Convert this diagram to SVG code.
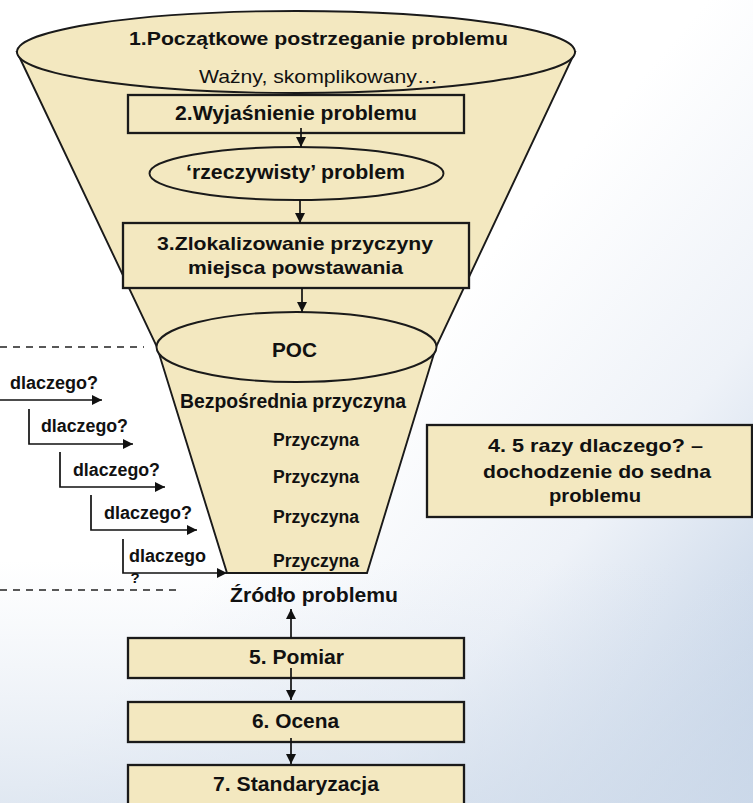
<svg xmlns="http://www.w3.org/2000/svg" width="753" height="803" viewBox="0 0 753 803">
  <defs>
    <linearGradient id="bgDiag" gradientUnits="userSpaceOnUse" x1="330" y1="440" x2="753" y2="803">
      <stop offset="0" stop-color="#ffffff"/>
      <stop offset="0.45" stop-color="#eef2f8"/>
      <stop offset="1" stop-color="#b9cbe2"/>
    </linearGradient>
    <linearGradient id="bgLow" gradientUnits="userSpaceOnUse" x1="0" y1="560" x2="0" y2="803">
      <stop offset="0" stop-color="#dbe4f0" stop-opacity="0"/>
      <stop offset="1" stop-color="#d3deec" stop-opacity="0.7"/>
    </linearGradient>
    <marker id="arr" viewBox="0 0 10 10" refX="10" refY="5" markerWidth="10" markerHeight="10" markerUnits="userSpaceOnUse" orient="auto">
      <path d="M0,0 L10,5 L0,10 Z" fill="#111"/>
    </marker>
  </defs>
  <style>
    .shape { fill: #f3e8c0; stroke: #1a1a1a; stroke-width: 1.9; }
    .box { fill: #f3e8c0; stroke: #1a1a1a; stroke-width: 2.3; }
    .conn { fill: none; stroke: #111; stroke-width: 1.7; marker-end: url(#arr); }
    .dash { fill: none; stroke: #222; stroke-width: 1.3; stroke-dasharray: 7 6; }
    text { font-family: "Liberation Sans", Arial, sans-serif; fill: #111; text-anchor: middle; }
    .b { font-weight: bold; }
  </style>

  <!-- background -->
  <rect width="753" height="803" fill="url(#bgDiag)"/>
  <rect width="753" height="803" fill="url(#bgLow)"/>

  <!-- funnel body -->
  <g id="funnel">
    <path class="shape" d="M17,52 L157,347 L227,573 L367,573 L436,347 L575,52 Z"/>
  </g>

  <g id="node-initial">
    <ellipse class="shape" cx="296" cy="52" rx="279" ry="41"/>
    <text class="b" x="318.5" y="45" font-size="19" textLength="379" lengthAdjust="spacingAndGlyphs">1.Początkowe postrzeganie problemu</text>
    <text x="318.5" y="83" font-size="18.5" textLength="239" lengthAdjust="spacingAndGlyphs">Ważny, skomplikowany…</text>
  </g>

  <g id="node-clarify">
    <rect class="box" x="128" y="95" width="336" height="38"/>
    <text class="b" x="296" y="120" font-size="19.5" textLength="242" lengthAdjust="spacingAndGlyphs">2.Wyjaśnienie problemu</text>
  </g>

  <g id="node-real">
    <ellipse class="shape" cx="296.5" cy="173.5" rx="147" ry="26.5"/>
    <text class="b" x="295.5" y="179" font-size="19.5" textLength="219" lengthAdjust="spacingAndGlyphs">‘rzeczywisty’ problem</text>
  </g>

  <g id="node-locate">
    <rect class="box" x="123" y="223" width="346" height="65"/>
    <text class="b" x="295" y="250" font-size="19" textLength="276" lengthAdjust="spacingAndGlyphs">3.Zlokalizowanie przyczyny</text>
    <text class="b" x="295.5" y="274" font-size="19" textLength="215" lengthAdjust="spacingAndGlyphs">miejsca powstawania</text>
  </g>

  <g id="node-poc">
    <ellipse class="shape" cx="296.5" cy="347" rx="140" ry="35"/>
    <text class="b" x="294.5" y="357" font-size="19.5" textLength="45" lengthAdjust="spacingAndGlyphs">POC</text>
  </g>

  <g id="node-causes">
    <text class="b" x="293" y="408" font-size="19.5" textLength="226" lengthAdjust="spacingAndGlyphs">Bezpośrednia przyczyna</text>
    <text class="b" x="316" y="446" font-size="17.5" textLength="86" lengthAdjust="spacingAndGlyphs">Przyczyna</text>
    <text class="b" x="316" y="483" font-size="17.5" textLength="86" lengthAdjust="spacingAndGlyphs">Przyczyna</text>
    <text class="b" x="316" y="523" font-size="17.5" textLength="86" lengthAdjust="spacingAndGlyphs">Przyczyna</text>
    <text class="b" x="316" y="567" font-size="17.5" textLength="86" lengthAdjust="spacingAndGlyphs">Przyczyna</text>
  </g>

  <g id="node-five-whys">
    <rect class="box" x="427" y="425" width="325" height="92"/>
    <text class="b" x="595.5" y="452" font-size="18.5" textLength="215" lengthAdjust="spacingAndGlyphs">4. 5 razy dlaczego? –</text>
    <text class="b" x="597" y="478" font-size="18.5" textLength="228" lengthAdjust="spacingAndGlyphs">dochodzenie do sedna</text>
    <text class="b" x="595" y="502" font-size="19" textLength="92" lengthAdjust="spacingAndGlyphs">problemu</text>
  </g>

  <g id="node-root">
    <text class="b" x="314" y="602" font-size="19.5" textLength="168" lengthAdjust="spacingAndGlyphs">Źródło problemu</text>
  </g>

  <g id="node-measure">
    <rect class="box" x="128" y="638" width="336" height="40"/>
    <text class="b" x="296.5" y="664" font-size="20" textLength="95" lengthAdjust="spacingAndGlyphs">5. Pomiar</text>
  </g>

  <g id="node-assess">
    <rect class="box" x="128" y="702" width="336" height="40"/>
    <text class="b" x="295.5" y="728" font-size="20" textLength="87" lengthAdjust="spacingAndGlyphs">6. Ocena</text>
  </g>

  <g id="node-standard">
    <rect class="box" x="128" y="765" width="336" height="50"/>
    <text class="b" x="296" y="791" font-size="20" textLength="166" lengthAdjust="spacingAndGlyphs">7. Standaryzacja</text>
  </g>

  <!-- why ladder labels -->
  <g id="why-labels">
    <text class="b" x="54" y="389" font-size="17.5" textLength="88" lengthAdjust="spacingAndGlyphs">dlaczego?</text>
    <text class="b" x="84.5" y="432" font-size="17.5" textLength="87" lengthAdjust="spacingAndGlyphs">dlaczego?</text>
    <text class="b" x="116.5" y="476" font-size="17.5" textLength="87" lengthAdjust="spacingAndGlyphs">dlaczego?</text>
    <text class="b" x="148" y="519" font-size="17.5" textLength="88" lengthAdjust="spacingAndGlyphs">dlaczego?</text>
    <text class="b" x="167.5" y="562" font-size="17.5" textLength="77" lengthAdjust="spacingAndGlyphs">dlaczego</text>
    <text class="b" x="135" y="583" font-size="15">?</text>
  </g>

  <!-- connectors -->
  <g id="connectors">
    <line class="conn" x1="301" y1="128" x2="301" y2="147"/>
    <line class="conn" x1="300" y1="200" x2="300" y2="223"/>
    <line class="conn" x1="302" y1="288" x2="302" y2="312"/>
    <line class="conn" x1="291" y1="638" x2="291" y2="609"/>
    <line class="conn" x1="291" y1="668" x2="291" y2="700"/>
    <line class="conn" x1="291" y1="738" x2="291" y2="764"/>

    <line class="conn" x1="0" y1="400" x2="102" y2="400"/>
    <polyline class="conn" points="29,409 29,444 133,444"/>
    <polyline class="conn" points="60,452 60,487 165,487"/>
    <polyline class="conn" points="91,495 91,530 197,530"/>
    <polyline class="conn" points="123,539 123,573 227,573"/>

    <line class="dash" x1="0" y1="347" x2="144" y2="347"/>
    <line class="dash" x1="0" y1="590" x2="176" y2="590"/>
  </g>
</svg>
